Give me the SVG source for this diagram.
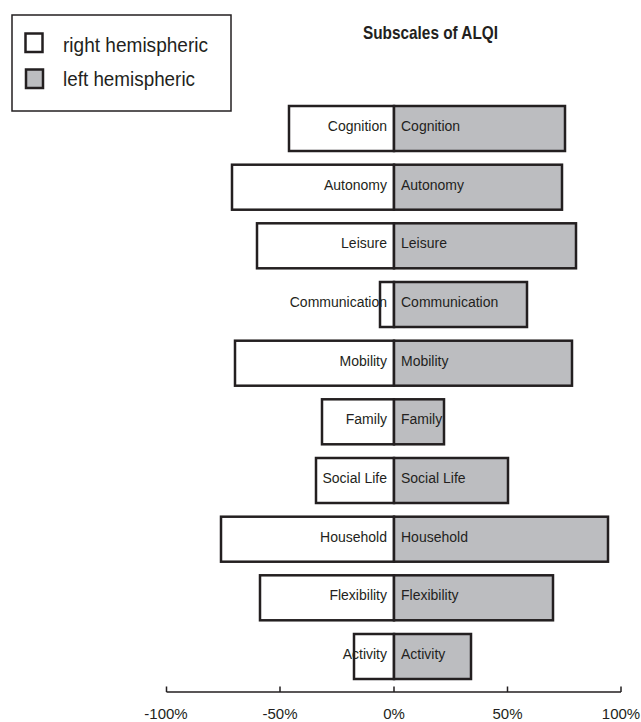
<svg xmlns="http://www.w3.org/2000/svg" width="641" height="722" viewBox="0 0 641 722">
<style>
.r{fill:#ffffff;stroke:#231f20;stroke-width:2.5}
.l{fill:#bcbdc0;stroke:#231f20;stroke-width:2.5}
.t{font-family:"Liberation Sans",Arial,sans-serif;font-size:14px;fill:#231f20}
.e{text-anchor:end}
.m{text-anchor:middle}
.ax{stroke:#231f20;stroke-width:1.5;fill:none}
</style>
<rect width="641" height="722" fill="#ffffff"/>
<g id="legend">
<rect x="12" y="15" width="219" height="96" fill="#ffffff" stroke="#231f20" stroke-width="1.5"/>
<rect x="25.5" y="33.5" width="17" height="18.5" class="r" stroke-width="2"/>
<rect x="26" y="69.5" width="17" height="18.5" class="l" stroke-width="2"/>
<text x="63" y="52" class="t" style="font-size:19.5px" textLength="145" lengthAdjust="spacingAndGlyphs">right hemispheric</text>
<text x="63" y="86" class="t" style="font-size:19.5px" textLength="132" lengthAdjust="spacingAndGlyphs">left hemispheric</text>
</g>
<g id="title">
<text x="363" y="39" class="t" style="font-size:19px;font-weight:bold" textLength="135" lengthAdjust="spacingAndGlyphs">Subscales of ALQI</text>
</g>
<g id="bar-cognition">
<rect x="289" y="106" width="105" height="45" class="r"/>
<rect x="394" y="106" width="171" height="45" class="l"/>
<text x="387" y="131" class="t e">Cognition</text>
<text x="401" y="131" class="t">Cognition</text>
</g>
<g id="bar-autonomy">
<rect x="232" y="164.7" width="162" height="45" class="r"/>
<rect x="394" y="164.7" width="168" height="45" class="l"/>
<text x="387" y="189.7" class="t e">Autonomy</text>
<text x="401" y="189.7" class="t">Autonomy</text>
</g>
<g id="bar-leisure">
<rect x="257" y="223.3" width="137" height="45" class="r"/>
<rect x="394" y="223.3" width="182" height="45" class="l"/>
<text x="387" y="248.3" class="t e">Leisure</text>
<text x="401" y="248.3" class="t">Leisure</text>
</g>
<g id="bar-communication">
<rect x="380" y="282" width="14" height="45" class="r"/>
<rect x="394" y="282" width="133" height="45" class="l"/>
<text x="387" y="307" class="t e">Communication</text>
<text x="401" y="307" class="t">Communication</text>
</g>
<g id="bar-mobility">
<rect x="235" y="340.7" width="159" height="45" class="r"/>
<rect x="394" y="340.7" width="178" height="45" class="l"/>
<text x="387" y="365.7" class="t e">Mobility</text>
<text x="401" y="365.7" class="t">Mobility</text>
</g>
<g id="bar-family">
<rect x="322" y="399.3" width="72" height="45" class="r"/>
<rect x="394" y="399.3" width="50" height="45" class="l"/>
<text x="387" y="424.3" class="t e">Family</text>
<text x="401" y="424.3" class="t">Family</text>
</g>
<g id="bar-social-life">
<rect x="316" y="458" width="78" height="45" class="r"/>
<rect x="394" y="458" width="114" height="45" class="l"/>
<text x="387" y="483" class="t e">Social Life</text>
<text x="401" y="483" class="t">Social Life</text>
</g>
<g id="bar-household">
<rect x="221" y="516.7" width="173" height="45" class="r"/>
<rect x="394" y="516.7" width="214" height="45" class="l"/>
<text x="387" y="541.7" class="t e">Household</text>
<text x="401" y="541.7" class="t">Household</text>
</g>
<g id="bar-flexibility">
<rect x="260" y="575.3" width="134" height="45" class="r"/>
<rect x="394" y="575.3" width="159" height="45" class="l"/>
<text x="387" y="600.3" class="t e">Flexibility</text>
<text x="401" y="600.3" class="t">Flexibility</text>
</g>
<g id="bar-activity">
<rect x="354" y="634" width="40" height="45" class="r"/>
<rect x="394" y="634" width="77" height="45" class="l"/>
<text x="387" y="659" class="t e">Activity</text>
<text x="401" y="659" class="t">Activity</text>
</g>
<g id="axis">
<path class="ax" d="M166.5 692 H621 M166.5 686.5 V692 M280 686.5 V692 M394 686.5 V692 M507.5 686.5 V692 M621 686.5 V692"/>
<text x="166" y="719" class="t m" style="font-size:15px">-100%</text>
<text x="280" y="719" class="t m" style="font-size:15px">-50%</text>
<text x="394" y="719" class="t m" style="font-size:15px">0%</text>
<text x="507.5" y="719" class="t m" style="font-size:15px">50%</text>
<text x="621" y="719" class="t m" style="font-size:15px">100%</text>
</g>
</svg>
